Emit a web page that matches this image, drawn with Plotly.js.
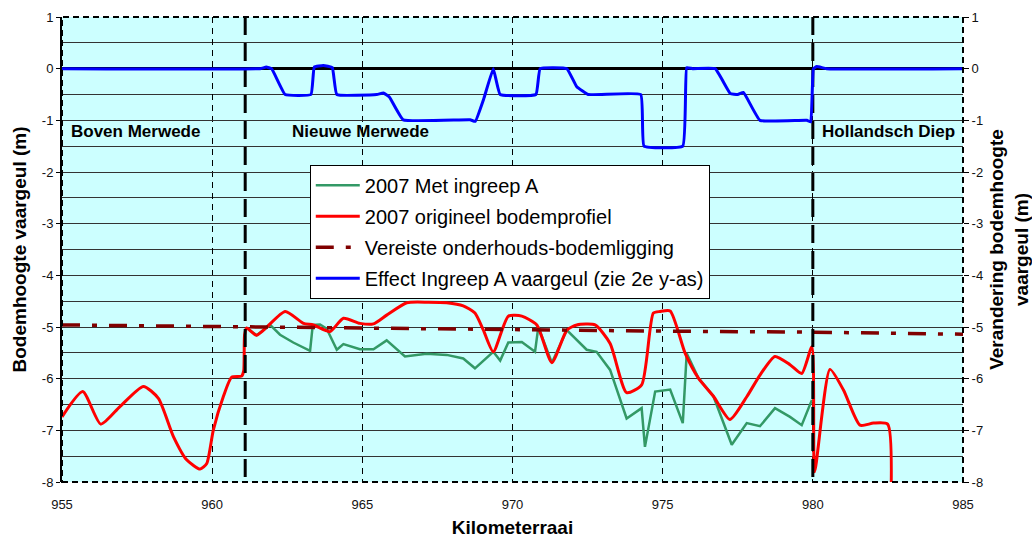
<!DOCTYPE html>
<html>
<head>
<meta charset="utf-8">
<script src="https://cdn.plot.ly/plotly-3.0.1.min.js"></script>
<style>
html,body{margin:0;padding:0;background:#fff;}
#chart{width:1032px;height:540px;}
</style>
</head>
<body>
<div id="chart"></div>
<script>
// ---- Data ----
const kmRed = [955, 955.69, 956.29, 956.93, 957.71, 958.21, 958.71, 959.15, 959.6, 959.82, 960.04, 960.37, 960.65, 960.98, 961.05, 961.08, 961.15, 961.48, 962.43, 963.04, 963.37, 963.92, 964.37, 964.92, 965.37, 965.81, 966.48, 967.2, 967.81, 968.36, 968.75, 969.03, 969.36, 969.86, 970.31, 970.81, 971.31, 971.81, 972.14, 972.75, 973.25, 973.8, 974.3, 974.69, 974.91, 975.25, 975.75, 976.19, 976.69, 977.24, 977.8, 978.24, 978.74, 979.24, 979.63, 979.97, 980.06, 980.57, 981.02, 981.57, 982.02, 982.49, 982.57];
const redVals = [-6.74, -6.25, -6.88, -6.54, -6.15, -6.38, -7.12, -7.57, -7.75, -7.64, -6.99, -6.35, -5.97, -5.95, -5.85, -5.15, -5.02, -5.16, -4.70, -4.93, -4.96, -5.09, -4.83, -4.93, -4.94, -4.77, -4.53, -4.52, -4.53, -4.59, -4.73, -5.06, -5.48, -4.79, -4.79, -4.96, -5.69, -5.06, -4.96, -4.96, -5.32, -6.27, -6.12, -4.73, -4.70, -4.69, -5.51, -5.99, -6.34, -6.79, -6.35, -5.93, -5.57, -5.73, -5.90, -5.38, -7.80, -5.82, -6.22, -6.90, -6.86, -6.88, -9.0];

const kmGreen = [961.15, 961.48, 961.93, 962.26, 962.70, 963.26, 963.35, 963.59, 963.81, 964.15, 964.37, 964.92, 965.37, 965.81, 966.42, 967.14, 967.81, 968.36, 968.75, 969.36, 969.59, 969.86, 970.31, 970.75, 970.86, 971.31, 971.81, 972.47, 972.80, 973.25, 973.8, 974.3, 974.41, 974.75, 975.25, 975.67, 975.80, 976.19, 976.69, 977.30, 977.80, 978.24, 978.74, 979.24, 979.63, 979.97];
const greenVals = [-5.02, -5.16, -4.96, -5.15, -5.30, -5.46, -4.96, -4.95, -5.03, -5.44, -5.33, -5.43, -5.43, -5.26, -5.57, -5.52, -5.54, -5.61, -5.80, -5.48, -5.65, -5.30, -5.29, -5.48, -5.00, -5.69, -5.06, -5.44, -5.48, -5.83, -6.77, -6.57, -7.32, -6.25, -6.21, -6.86, -5.51, -5.99, -6.34, -7.28, -6.86, -6.92, -6.57, -6.74, -6.90, -6.41];

const kmReq = [955, 960, 965, 970, 975, 980, 985];
const reqVals = [-4.96, -4.99, -5.03, -5.06, -5.08, -5.10, -5.14];

const kmBlue = [955, 961.6, 961.8, 961.98, 962.43, 963.29, 963.4, 963.7, 964.0, 964.15, 965.48, 965.7, 965.9, 966.36, 968.59, 968.76, 969.05, 969.36, 969.59, 970.78, 970.92, 971.81, 972.14, 972.52, 974.27, 974.38, 975.67, 975.8, 976.0, 976.75, 977.25, 977.5, 977.69, 978.24, 979.8, 979.93, 980.02, 980.13, 980.46, 985];
const blueVals = [0, 0, 0.03, 0, -0.5, -0.5, 0.03, 0.06, 0.02, -0.5, -0.5, -0.47, -0.55, -0.99, -0.99, -1.02, -0.57, 0, -0.5, -0.5, 0, 0, -0.35, -0.5, -0.5, -1.5, -1.5, 0.02, 0, 0, -0.48, -0.5, -0.46, -1.0, -1.0, -1.03, 0.0, 0.04, 0, 0];

const reachBounds = [961.1, 980];
const reachNames = ['Boven Merwede', 'Nieuwe Merwede', 'Hollandsch Diep'];
const reachLabelKm = [955.33, 962.69, 980.34];
const reachLabelY = -1.21;

const yTickVals = [1, 0, -1, -2, -3, -4, -5, -6, -7, -8];
const yTickText = ['1', '0', '-1', '-2', '-3', '-4', '-5', '-6', '-7', '-8'];

const seriesNames = ['2007 Met ingreep A', '2007 origineel bodemprofiel', 'Vereiste onderhouds-bodemligging', 'Effect Ingreep A vaargeul (zie 2e y-as)'];

const FONT = 'Liberation Sans, Arial, sans-serif';

const traces = [
  {x: kmGreen, y: greenVals, type: 'scatter', mode: 'lines', name: seriesNames[0], legendgroup: 'a',
   line: {color: '#339966', width: 2.5}},
  {x: kmRed, y: redVals, type: 'scatter', mode: 'lines', name: seriesNames[1], legendgroup: 'b',
   line: {color: '#FF0000', width: 3, shape: 'spline', smoothing: 0.6}},
  {x: kmReq, y: reqVals, type: 'scatter', mode: 'lines', name: seriesNames[2], legendgroup: 'c',
   line: {color: '#800000', width: 3.5, dash: '18px,12px,5px,12px'}}
];
reachBounds.forEach(function(b){
  traces.push({x: [b, b], y: [1, -8], type: 'scatter', mode: 'lines', showlegend: false, hoverinfo: 'skip',
    line: {color: '#000', width: 3, dash: '18px,8px'}});
});
traces.push({x: kmBlue, y: blueVals, type: 'scatter', mode: 'lines', name: seriesNames[3], legendgroup: 'd', yaxis: 'y2',
  line: {color: '#0000FF', width: 3, shape: 'spline', smoothing: 0.3}});

const annotations = reachNames.map(function(n, i){
  return {x: reachLabelKm[i], y: reachLabelY, xref: 'x', yref: 'y', text: '<b>' + n + '</b>', showarrow: false,
    xanchor: 'left', yanchor: 'middle', xshift: -3, font: {family: FONT, size: 17, color: '#000'}};
});

const layout = {
  width: 1032, height: 540,
  margin: {l: 62, r: 69, t: 17, b: 58},
  paper_bgcolor: '#fff', plot_bgcolor: '#CCFFFF',
  font: {family: FONT, size: 13, color: '#000'},
  showlegend: true,
  legend: {x: 0.275, y: 0.682, xanchor: 'left', yanchor: 'top', bgcolor: '#fff', bordercolor: '#000', borderwidth: 1,
    font: {family: FONT, size: 20, color: '#000'}, itemwidth: 44, tracegroupgap: 2, traceorder: 'grouped'},
  xaxis: {range: [955, 985], tick0: 955, dtick: 5, showgrid: true, gridcolor: '#000', gridwidth: 1, griddash: '6px,5px',
    zeroline: false, showline: false, ticks: 'outside', ticklen: 10, tickcolor: 'rgba(0,0,0,0)', tickfont: {size: 13, color: '#111'},
    title: {text: '<b>Kilometerraai</b>', font: {family: FONT, size: 19, color: '#000'}, standoff: 10}},
  yaxis: {range: [-8, 1], tickvals: yTickVals, ticktext: yTickText, showgrid: true, gridcolor: '#333', gridwidth: 1,
    minor: {dtick: 0.5, showgrid: true, gridcolor: '#333', gridwidth: 1, ticks: ''},
    zeroline: true, zerolinecolor: '#000', zerolinewidth: 2.5,
    showline: true, linecolor: '#000', linewidth: 2, ticks: 'outside', ticklen: 4, tickcolor: '#000',
    tickfont: {size: 13, color: '#111'},
    title: {text: '<b>Bodemhoogte vaargeul (m)</b>', font: {family: FONT, size: 19, color: '#000'}, standoff: 10}},
  yaxis2: {range: [-8, 1], tickvals: yTickVals, ticktext: yTickText, overlaying: 'y', side: 'right', showgrid: false, zeroline: false,
    showline: false, ticks: 'outside', ticklen: 5, tickcolor: '#000', tickfont: {size: 13, color: '#111'},
    title: {text: '<b>Verandering bodemhoogte<br>vaargeul (m)</b>', font: {family: FONT, size: 19, color: '#000'}, standoff: 7}},
  shapes: [
    {type: 'rect', xref: 'paper', yref: 'paper', x0: 0, x1: 1, y0: 0, y1: 1, line: {color: '#000', width: 2, dash: '6px,4px'}, layer: 'above'}
  ],
  annotations: annotations
};

Plotly.newPlot('chart', traces, layout, {displayModeBar: false, staticPlot: true});
</script>
</body>
</html>
